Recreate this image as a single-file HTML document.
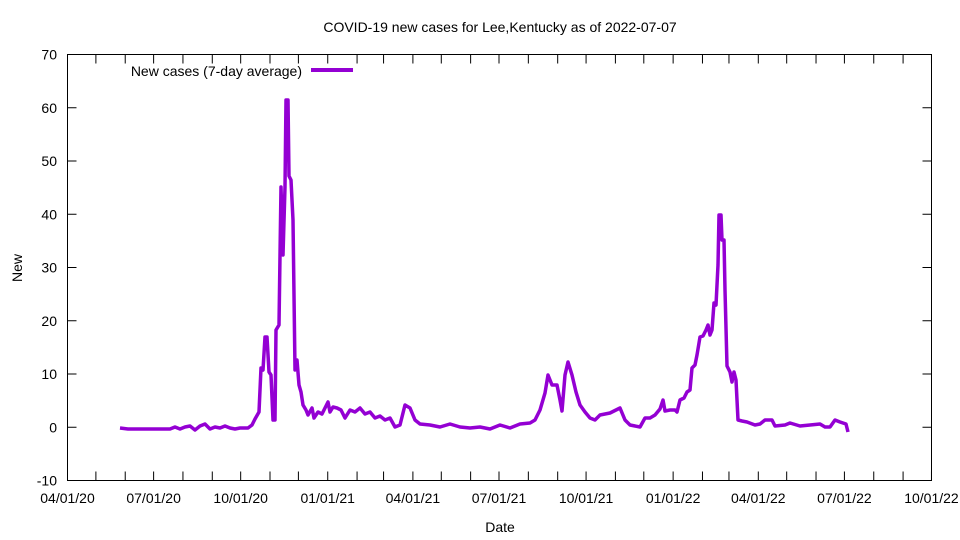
<!DOCTYPE html>
<html><head><meta charset="utf-8"><style>body{margin:0;background:#fff}svg{display:block}text{font-family:"Liberation Sans",sans-serif;font-size:14px;fill:#000}</style></head>
<body>
<svg width="960" height="540" xmlns="http://www.w3.org/2000/svg">
<text x="500" y="32" text-anchor="middle">COVID-19 new cases for Lee,Kentucky as of 2022-07-07</text>
<g id="ax" stroke="#000" stroke-width="1" fill="none">
<rect x="67.5" y="54.5" width="864" height="426"/>
</g>
<g stroke="#000" stroke-width="1" id="ticks"></g>
<g id="ylab" text-anchor="end"></g>
<g id="xlab" text-anchor="middle"></g>
<text x="500" y="532" text-anchor="middle">Date</text>
<text x="22" y="268" text-anchor="middle" transform="rotate(-90 22 268)">New</text>
<text x="302" y="76" text-anchor="end">New cases (7-day average)</text>
<line x1="311" y1="70" x2="353" y2="70" stroke="#9400d3" stroke-width="4"/>
<polyline fill="none" stroke="#9400d3" stroke-width="3.5" stroke-linejoin="round" points="
120,428 128,429 170,429 175,427 180,429 185,427 190,426 195,430 200,426 205,424 210,429 215,427 220,428 225,426 230,428 235,429 240,428 248,428 252,425 255,419 259,412 261,368 263,370 265,337 267,337 269,372 271,375 273,420 275,420 276,330 279,325 281,187 283,255 285,187 286,100 288,100 289,176 291,180 293,220 295,370 297,360 299,385 301,392 303,405 306,410 308,415 312,408 314,418 318,412 322,414 325,408 328,402 330,412 333,407 337,408 341,410 345,418 350,410 355,412 360,408 365,414 370,412 375,418 380,416 385,420 390,418 395,427 400,425 405,405 410,408 415,420 420,424 430,425 440,427 450,424 460,427 470,428 480,427 490,429 500,425 510,428 520,424 530,423 535,420 540,410 545,393 548,375 552,385 557,385 560,400 562,411 565,375 568,362 572,375 576,392 580,405 585,412 590,418 595,420 600,415 610,413 620,408 625,420 630,425 640,427 645,418 650,418 655,415 660,409 663,400 665,411 670,410 675,410 677,412 680,400 684,398 687,392 690,390 692,368 695,365 697,355 700,337 703,336 706,330 708,325 710,335 712,330 714,303 716,305 718,265 719,215 721,215 722,240 724,240 725,290 727,366 730,372 732,382 734,372 736,380 737,400 738,420 742,421 747,422 755,425 760,424 765,420 772,420 775,426 785,425 790,423 800,426 810,425 820,424 825,427 830,427 835,420 840,422 846,424 848,432"/>
</svg>
<script>
var ns="http://www.w3.org/2000/svg",t=document.getElementById("ticks"),yl=document.getElementById("ylab"),xl=document.getElementById("xlab");
function L(x1,y1,x2,y2){var l=document.createElementNS(ns,"line");l.setAttribute("x1",x1);l.setAttribute("y1",y1);l.setAttribute("x2",x2);l.setAttribute("y2",y2);t.appendChild(l);}
function T(g,x,y,s){var e=document.createElementNS(ns,"text");e.setAttribute("x",x);e.setAttribute("y",y);e.textContent=s;g.appendChild(e);}
for(var i=0;i<=8;i++){var y=480.5-i*53.25;L(67.5,y,76.5,y);L(931.5,y,922.5,y);T(yl,57,y+5,String(-10+i*10));}
var lbl=["04/01/20","07/01/20","10/01/20","01/01/21","04/01/21","07/01/21","10/01/21","01/01/22","04/01/22","07/01/22","10/01/22"];
var d0=Date.UTC(2020,3,1);
for(var m=0;m<=30;m++){var d=Date.UTC(2020,3+m,1);var x=67.5+(d-d0)/864e5*0.9463;L(x,480.5,x,471.5);L(x,54.5,x,63.5);if(m%3==0)T(xl,x,503,lbl[m/3]);}
</script>
</body></html>
